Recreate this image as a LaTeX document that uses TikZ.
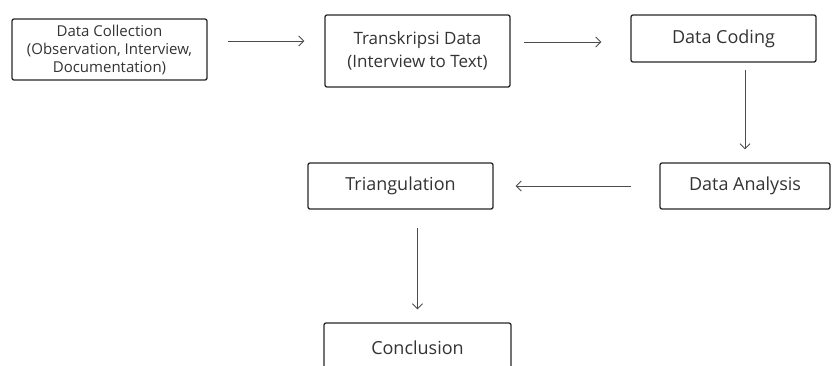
\documentclass[tikz,border=0pt]{standalone}
\usepackage{fontspec}
\setmainfont{Open Sans}
\usetikzlibrary{arrows.meta}
\tikzset{
  stepbox/.style={draw=black!85, line width=1.3pt, rounded corners=2pt, align=center,
    text=black!80, inner sep=0pt, font=\fontsize{18}{22}\selectfont},
  arr/.style={draw=black!70, line width=0.9pt, -{Straight Barb[length=5pt,width=10pt]}}
}
\begin{document}
\begin{tikzpicture}[x=1pt,y=-1pt]
    \useasboundingbox (0,0) rectangle (833,365);
    \node[stepbox, minimum width=195pt, minimum height=61pt, font=\fontsize{15}{18}\selectfont] (collect) at (109.5,49.5) {Data Collection\\(Observation, Interview,\\Documentation)};
    \node[stepbox, minimum width=185pt, minimum height=72pt, font=\fontsize{17}{23}\selectfont] (transkrip) at (417.5,51) {Transkripsi Data\\(Interview to Text)};
    \node[stepbox, minimum width=185pt, minimum height=47pt] (coding) at (723.5,38.5) {Data Coding};
    \node[stepbox, minimum width=170pt, minimum height=46pt] (analysis) at (745,186) {Data Analysis};
    \node[stepbox, minimum width=185pt, minimum height=46pt] (triang) at (400.5,186) {Triangulation};
    \node[stepbox, minimum width=187pt, minimum height=50pt] (concl) at (417.5,348) {Conclusion};

    \draw[arr, shorten <=20pt, shorten >=20pt] ([yshift=8.5pt]collect.east) -- ([yshift=8.5pt]collect.east -| transkrip.west);
    \draw[arr, shorten <=13pt, shorten >=29pt] ([yshift=9pt]transkrip.east) -- ([yshift=9pt]transkrip.east -| coding.west);
    \draw[arr, shorten <=7pt, shorten >=13pt] (coding.south -| analysis.north) -- (analysis.north);
    \draw[arr, shorten <=28pt, shorten >=22pt] (analysis.west) -- (triang.east);
    \draw[arr, shorten <=18pt, shorten >=13pt] (triang.south -| concl.north) -- (concl.north);
\end{tikzpicture}
\end{document}
